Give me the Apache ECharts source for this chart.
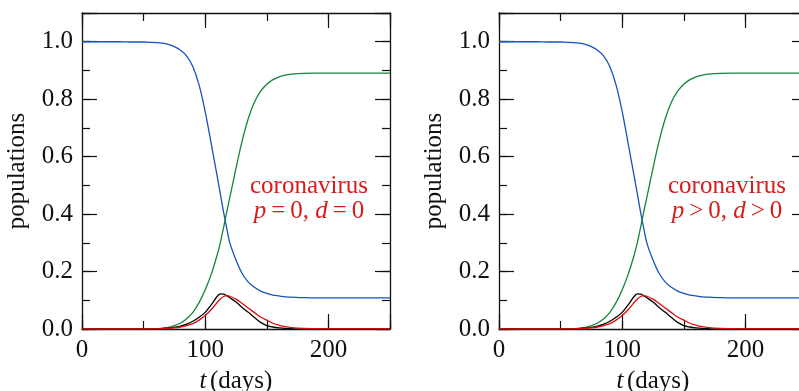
<!DOCTYPE html>
<html>
<head>
<meta charset="utf-8">
<script src="https://cdn.jsdelivr.net/npm/echarts@6/dist/echarts.min.js"></script>
<style>
  html, body { margin: 0; padding: 0; background: #fff; }
  #chart { width: 799px; height: 391px; }
</style>
</head>
<body>
<div id="chart"></div>
<script>
// time samples (days)
const days = [0, 10, 20, 30, 40, 50, 55, 60, 65, 70, 75, 80, 85, 90, 95, 100, 105, 110, 112.5, 115, 117.5,
  120, 125, 130, 135, 140, 145, 150, 155, 160, 165, 170, 180, 190, 200, 210, 220, 230, 240, 250];
// blue
const susceptible = [1.0, 1.0, 1.0, 1.0, 0.999, 0.999, 0.998, 0.997, 0.995, 0.991, 0.983, 0.970, 0.950, 0.913, 0.850,
  0.757, 0.642, 0.525, 0.465, 0.405, 0.350, 0.300, 0.240, 0.193, 0.163, 0.145, 0.132, 0.124, 0.118, 0.115, 0.112,
  0.111, 0.109, 0.108, 0.108, 0.108, 0.108, 0.108, 0.108, 0.108];
// green
const recovered = [0, 0, 0, 0, 0, 0, 0.001, 0.001, 0.003, 0.006, 0.012, 0.021, 0.036, 0.058, 0.092,
  0.137, 0.192, 0.262, 0.305, 0.355, 0.408, 0.458, 0.560, 0.655, 0.733, 0.790, 0.828, 0.852, 0.868, 0.878, 0.884,
  0.887, 0.890, 0.891, 0.891, 0.891, 0.891, 0.891, 0.891, 0.891];
// black
const infectedBase = [0, 0, 0, 0, 0, 0, 0, 0, 0.001, 0.003, 0.006, 0.010, 0.017, 0.027, 0.041,
  0.058, 0.085, 0.115, 0.122, 0.121, 0.116, 0.109, 0.094, 0.075, 0.058, 0.040, 0.023, 0.012, 0.007, 0.004, 0.002,
  0.001, 0, 0, 0, 0, 0, 0, 0, 0];
// red
const infectedCorona = [0, 0, 0, 0, 0, 0, 0, 0, 0.001, 0.002, 0.004, 0.007, 0.012, 0.019, 0.031,
  0.047, 0.068, 0.094, 0.105, 0.113, 0.116, 0.114, 0.104, 0.089, 0.073, 0.057, 0.042, 0.031, 0.020, 0.013, 0.008,
  0.005, 0.002, 0.001, 0, 0, 0, 0, 0, 0];

const TS = '\u2009';
const notes = [
  ['p', TS + '=' + TS + '0, ', 'd', TS + '=' + TS + '0'],
  ['p', TS + '>' + TS + '0, ', 'd', TS + '>' + TS + '0']
];

const FONT = 'Liberation Serif';
const INK = '#111';
const RED = '#d81c1c';

const panels = [{left: 82, noteX: 309}, {left: 499, noteX: 727}];

let grids = [], xAxes = [], yAxes = [], series = [], graphics = [];

const tickLine = {color: INK, width: 1.2};
const frameLine = {show: true, onZero: false, lineStyle: {color: INK, width: 1.3}};
const noLine = {show: false, onZero: false};

panels.forEach((p, gi) => {
  // plot frame in pixels; the second panel runs past the right edge like the reference
  grids.push({left: p.left, top: 13, width: 308, height: 316, outerBoundsMode: 'none', containLabel: false});

  const xBase = {gridIndex: gi, type: 'value', min: 0, max: 250, splitLine: {show: false}};
  const yBase = {gridIndex: gi, type: 'value', min: 0, max: 1.1, splitLine: {show: false}};

  xAxes.push(
    Object.assign({}, xBase, {
      position: 'bottom', interval: 100, axisLine: frameLine,
      axisTick: {inside: true, length: 15, lineStyle: tickLine},
      axisLabel: {margin: 9, fontSize: 25, fontFamily: FONT, color: INK,
        formatter: v => (v % 100 === 0 ? String(v) : '')},
      name: '{i|t} {r|(days)}', nameLocation: 'middle', nameGap: 40,
      nameTextStyle: {rich: {
        i: {fontSize: 25, fontFamily: FONT, fontStyle: 'italic', color: INK},
        r: {fontSize: 25, fontFamily: FONT, color: INK}
      }}
    }),
    Object.assign({}, xBase, {
      position: 'bottom', interval: 50, axisLine: noLine,
      axisTick: {inside: true, length: 8, lineStyle: tickLine}, axisLabel: {show: false}
    }),
    Object.assign({}, xBase, {
      position: 'top', interval: 100, axisLine: frameLine,
      axisTick: {inside: true, length: 15, lineStyle: tickLine}, axisLabel: {show: false}
    }),
    Object.assign({}, xBase, {
      position: 'top', interval: 50, axisLine: noLine,
      axisTick: {inside: true, length: 8, lineStyle: tickLine}, axisLabel: {show: false}
    })
  );

  yAxes.push(
    Object.assign({}, yBase, {
      position: 'left', interval: 0.2, axisLine: frameLine,
      axisTick: {inside: true, length: 15, lineStyle: tickLine},
      axisLabel: {margin: 9, fontSize: 25, fontFamily: FONT, color: INK,
        formatter: v => (v > 1.05 ? '' : v.toFixed(1))},
      name: 'populations', nameLocation: 'middle', nameGap: 52, nameRotate: 90,
      nameTextStyle: {fontSize: 25, fontFamily: FONT, color: INK}
    }),
    Object.assign({}, yBase, {
      position: 'left', interval: 0.1, axisLine: noLine,
      axisTick: {inside: true, length: 8, lineStyle: tickLine}, axisLabel: {show: false}
    }),
    Object.assign({}, yBase, {
      position: 'right', interval: 0.2, axisLine: frameLine,
      axisTick: {inside: true, length: 15, lineStyle: tickLine}, axisLabel: {show: false}
    }),
    Object.assign({}, yBase, {
      position: 'right', interval: 0.1, axisLine: noLine,
      axisTick: {inside: true, length: 8, lineStyle: tickLine}, axisLabel: {show: false}
    })
  );

  const lines = [
    [susceptible, '#1452c4'],
    [recovered, '#13843a'],
    [infectedBase, '#000000'],
    [infectedCorona, '#e00b0b']
  ];
  lines.forEach(([vals, color]) => {
    series.push({
      type: 'line', xAxisIndex: gi * 4, yAxisIndex: gi * 4,
      data: days.map((t, i) => [t, vals[i]]),
      smooth: 0.35, showSymbol: false, silent: true,
      lineStyle: {color: color, width: 1.3}
    });
  });

  const n = notes[gi];
  graphics.push({
    type: 'text', x: p.noteX, y: 174,
    style: {
      text: '{r|coronavirus}\n{i|' + n[0] + '}{r|' + n[1] + '}{i|' + n[2] + '}{r|' + n[3] + '}',
      align: 'center', verticalAlign: 'top',
      rich: {
        r: {fontSize: 25, fontFamily: FONT, fill: RED, lineHeight: 25},
        i: {fontSize: 25, fontFamily: FONT, fontStyle: 'italic', fill: RED, lineHeight: 25}
      }
    }
  });
});

const chart = echarts.init(document.getElementById('chart'));
chart.setOption({
  animation: false,
  backgroundColor: '#fff',
  grid: grids,
  xAxis: xAxes,
  yAxis: yAxes,
  series: series,
  graphic: graphics
});
</script>
</body>
</html>
